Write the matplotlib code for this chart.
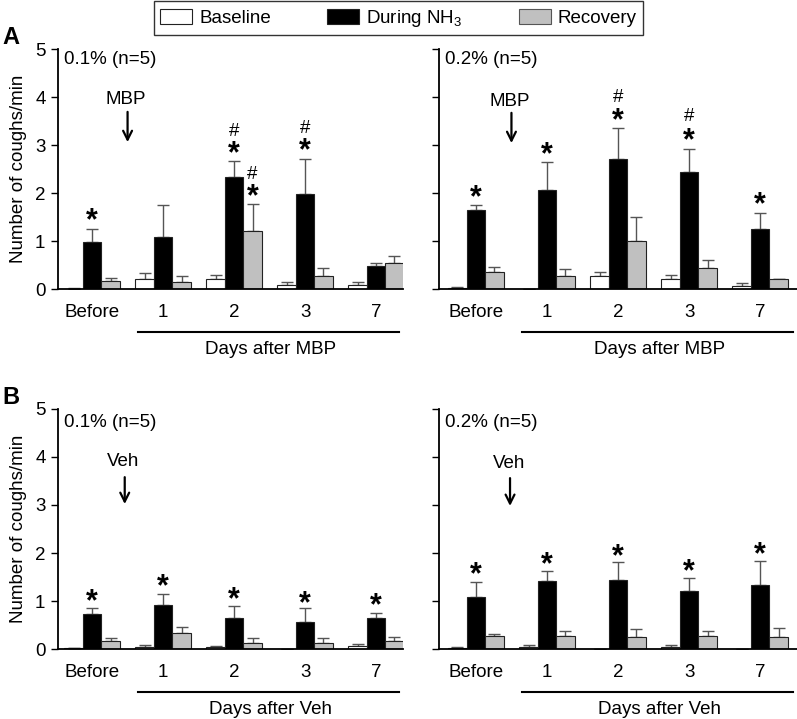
import matplotlib.pyplot as plt
from matplotlib.patches import Patch
from matplotlib.transforms import blended_transform_factory
import numpy as np

plt.rcParams['font.family'] = ['Liberation Sans', 'DejaVu Sans']
plt.rcParams['mathtext.fontset'] = 'custom'
plt.rcParams['mathtext.rm'] = 'Liberation Sans'
plt.rcParams['mathtext.it'] = 'Liberation Sans:italic'

days = ['Before', '1', '2', '3', '7']

# Panel A, 0.1 % NH3 (MBP)
a1_base = [0.01, 0.21, 0.21, 0.08, 0.08]
a1_base_err = [0.02, 0.12, 0.09, 0.06, 0.07]
a1_dur = [0.98, 1.08, 2.33, 1.97, 0.47]
a1_dur_err = [0.28, 0.68, 0.33, 0.74, 0.07]
a1_rec = [0.17, 0.15, 1.21, 0.28, 0.54]
a1_rec_err = [0.05, 0.12, 0.56, 0.15, 0.14]

# Panel A, 0.2 % NH3 (MBP)
a2_base = [0.03, 0.0, 0.27, 0.20, 0.06]
a2_base_err = [0.02, 0.0, 0.08, 0.09, 0.07]
a2_dur = [1.64, 2.06, 2.71, 2.43, 1.26]
a2_dur_err = [0.10, 0.58, 0.64, 0.49, 0.33]
a2_rec = [0.36, 0.27, 1.01, 0.44, 0.20]
a2_rec_err = [0.10, 0.14, 0.50, 0.17, 0.0]

# Panel B, 0.1 % NH3 (Veh)
b1_base = [0.02, 0.04, 0.04, 0.0, 0.06]
b1_base_err = [0.01, 0.04, 0.03, 0.0, 0.04]
b1_dur = [0.72, 0.92, 0.65, 0.57, 0.65]
b1_dur_err = [0.13, 0.22, 0.25, 0.28, 0.10]
b1_rec = [0.17, 0.33, 0.13, 0.13, 0.16]
b1_rec_err = [0.05, 0.13, 0.09, 0.09, 0.10]

# Panel B, 0.2 % NH3 (Veh)
b2_base = [0.03, 0.05, 0.0, 0.05, 0.0]
b2_base_err = [0.01, 0.03, 0.0, 0.03, 0.0]
b2_dur = [1.09, 1.41, 1.44, 1.20, 1.34]
b2_dur_err = [0.31, 0.22, 0.37, 0.27, 0.50]
b2_rec = [0.27, 0.27, 0.24, 0.27, 0.25]
b2_rec_err = [0.04, 0.11, 0.17, 0.11, 0.19]

# significance marks: (group, series offset, y)
a1_stars = [(0, 0, 1.50), (2, 0, 2.90), (2, 1, 2.00), (3, 0, 2.96)]
a1_hashes = [(2, 0, 3.28), (2, 1, 2.38), (3, 0, 3.35)]
a2_stars = [(0, 0, 1.98), (1, 0, 2.87), (2, 0, 3.59), (3, 0, 3.17), (4, 0, 1.84)]
a2_hashes = [(2, 0, 3.99), (3, 0, 3.59)]
b1_stars = [(0, 0, 1.06), (1, 0, 1.39), (2, 0, 1.11), (3, 0, 1.03), (4, 0, 0.99)]
b2_stars = [(0, 0, 1.63), (1, 0, 1.84), (2, 0, 2.01), (3, 0, 1.70), (4, 0, 2.05)]

GRAY = '#c0c0c0'
W = 0.26
FS = 13.5
H = 719.0


def draw_panel(ax, base, base_err, dur, dur_err, rec, rec_err, stars, hashes,
               label, treat, treat_xy, arrow_y, xlim, show_y):
    x = np.arange(len(days))
    series = [(base, base_err, 'white', -W), (dur, dur_err, 'black', 0), (rec, rec_err, GRAY, W)]
    for vals, err, col, off in series:
        ax.bar(x + off, vals, W, color=col, edgecolor='#222222', linewidth=0.8, zorder=2)
        ax.errorbar(x + off, vals, yerr=[np.zeros(len(vals)), err], fmt='none',
                    ecolor='#555555', elinewidth=1, capsize=4, capthick=1, zorder=1)
    for g, s, y in stars:
        ax.annotate('*', (g + s * W, y), xytext=(0, -9), textcoords='offset points',
                    ha='center', va='baseline', fontsize=22, fontweight='bold')
    for g, s, y in hashes:
        ax.text(g + s * W, y, '#', ha='center', va='center', fontsize=13.5)

    ax.set_xlim(*xlim)
    ax.set_ylim(0, 5)
    ax.set_yticks(range(6))
    ax.set_xticks(x)
    ax.set_xticklabels(days, fontsize=FS)
    ax.tick_params(axis='x', length=0, pad=11)
    ax.tick_params(axis='y', direction='out', length=5, width=1, pad=4, labelsize=FS)
    if show_y:
        ax.set_ylabel('Number of coughs/min', fontsize=FS, labelpad=6)
    else:
        ax.set_yticklabels([])
    for sp in ['top', 'right']:
        ax.spines[sp].set_visible(False)
    for sp in ['left', 'bottom']:
        ax.spines[sp].set_linewidth(1.3)

    ax.text(xlim[0] + 0.08, 4.78 if treat == 'MBP' else 4.71, label, fontsize=FS,
            ha='left', va='center')
    ax.text(treat_xy[0], treat_xy[1], treat, fontsize=FS, ha='center', va='center')
    ax.annotate('', xy=(treat_xy[0] + 0.02, arrow_y[1]), xytext=(treat_xy[0] + 0.02, arrow_y[0]),
                arrowprops=dict(arrowstyle='->', lw=1.6, color='black',
                                mutation_scale=16, shrinkA=0, shrinkB=0))

    tr = blended_transform_factory(ax.transData, ax.transAxes)
    ax.plot([0.65, xlim[1] - 0.05], [-0.179, -0.179], color='black', lw=1.5,
            transform=tr, clip_on=False)
    ax.text((0.65 + xlim[1]) / 2, -0.25, 'Days after ' + treat, fontsize=FS,
            ha='center', va='center', transform=tr)


fig = plt.figure(figsize=(7.97, 7.19), dpi=100)
left_l, width_l = 58 / 797, 345 / 797
left_r, width_r = 439 / 797, 358 / 797
ax_h = 240 / H
axA1 = fig.add_axes([left_l, 1 - 289 / H, width_l, ax_h])
axA2 = fig.add_axes([left_r, 1 - 289 / H, width_r, ax_h])
axB1 = fig.add_axes([left_l, 1 - 649 / H, width_l, ax_h])
axB2 = fig.add_axes([left_r, 1 - 649 / H, width_r, ax_h])

xl_left = (-0.48, 4.38)
xl_right = (-0.52, 4.52)

draw_panel(axA1, a1_base, a1_base_err, a1_dur, a1_dur_err, a1_rec, a1_rec_err,
           a1_stars, a1_hashes, '0.1% (n=5)', 'MBP', (0.48, 3.94), (3.69, 3.06), xl_left, True)
draw_panel(axA2, a2_base, a2_base_err, a2_dur, a2_dur_err, a2_rec, a2_rec_err,
           a2_stars, a2_hashes, '0.2% (n=5)', 'MBP', (0.48, 3.90), (3.67, 3.04), xl_right, False)
draw_panel(axB1, b1_base, b1_base_err, b1_dur, b1_dur_err, b1_rec, b1_rec_err,
           b1_stars, [], '0.1% (n=5)', 'Veh', (0.44, 3.90), (3.58, 3.02), xl_left, True)
draw_panel(axB2, b2_base, b2_base_err, b2_dur, b2_dur_err, b2_rec, b2_rec_err,
           b2_stars, [], '0.2% (n=5)', 'Veh', (0.46, 3.87), (3.56, 2.98), xl_right, False)

fig.text(11 / 797, 1 - 37 / H, 'A', fontsize=17, fontweight='bold', ha='center', va='center')
fig.text(11 / 797, 1 - 398 / H, 'B', fontsize=17, fontweight='bold', ha='center', va='center')

handles = [Patch(facecolor='white', edgecolor='#222222', linewidth=0.8),
           Patch(facecolor='black', edgecolor='#222222', linewidth=0.8),
           Patch(facecolor=GRAY, edgecolor='#555555', linewidth=0.8)]
leg = fig.legend(handles, ['Baseline', 'During NH$_3$', 'Recovery'], loc='upper center',
                 bbox_to_anchor=(0.5, 1 - 1 / H), ncol=3, fontsize=FS, frameon=True,
                 fancybox=False, edgecolor='black', handlelength=1.7, handleheight=0.85,
                 columnspacing=3.0, handletextpad=0.38, borderpad=0.35, borderaxespad=0)
leg.get_frame().set_linewidth(1)

plt.savefig('out.png', dpi=100)
